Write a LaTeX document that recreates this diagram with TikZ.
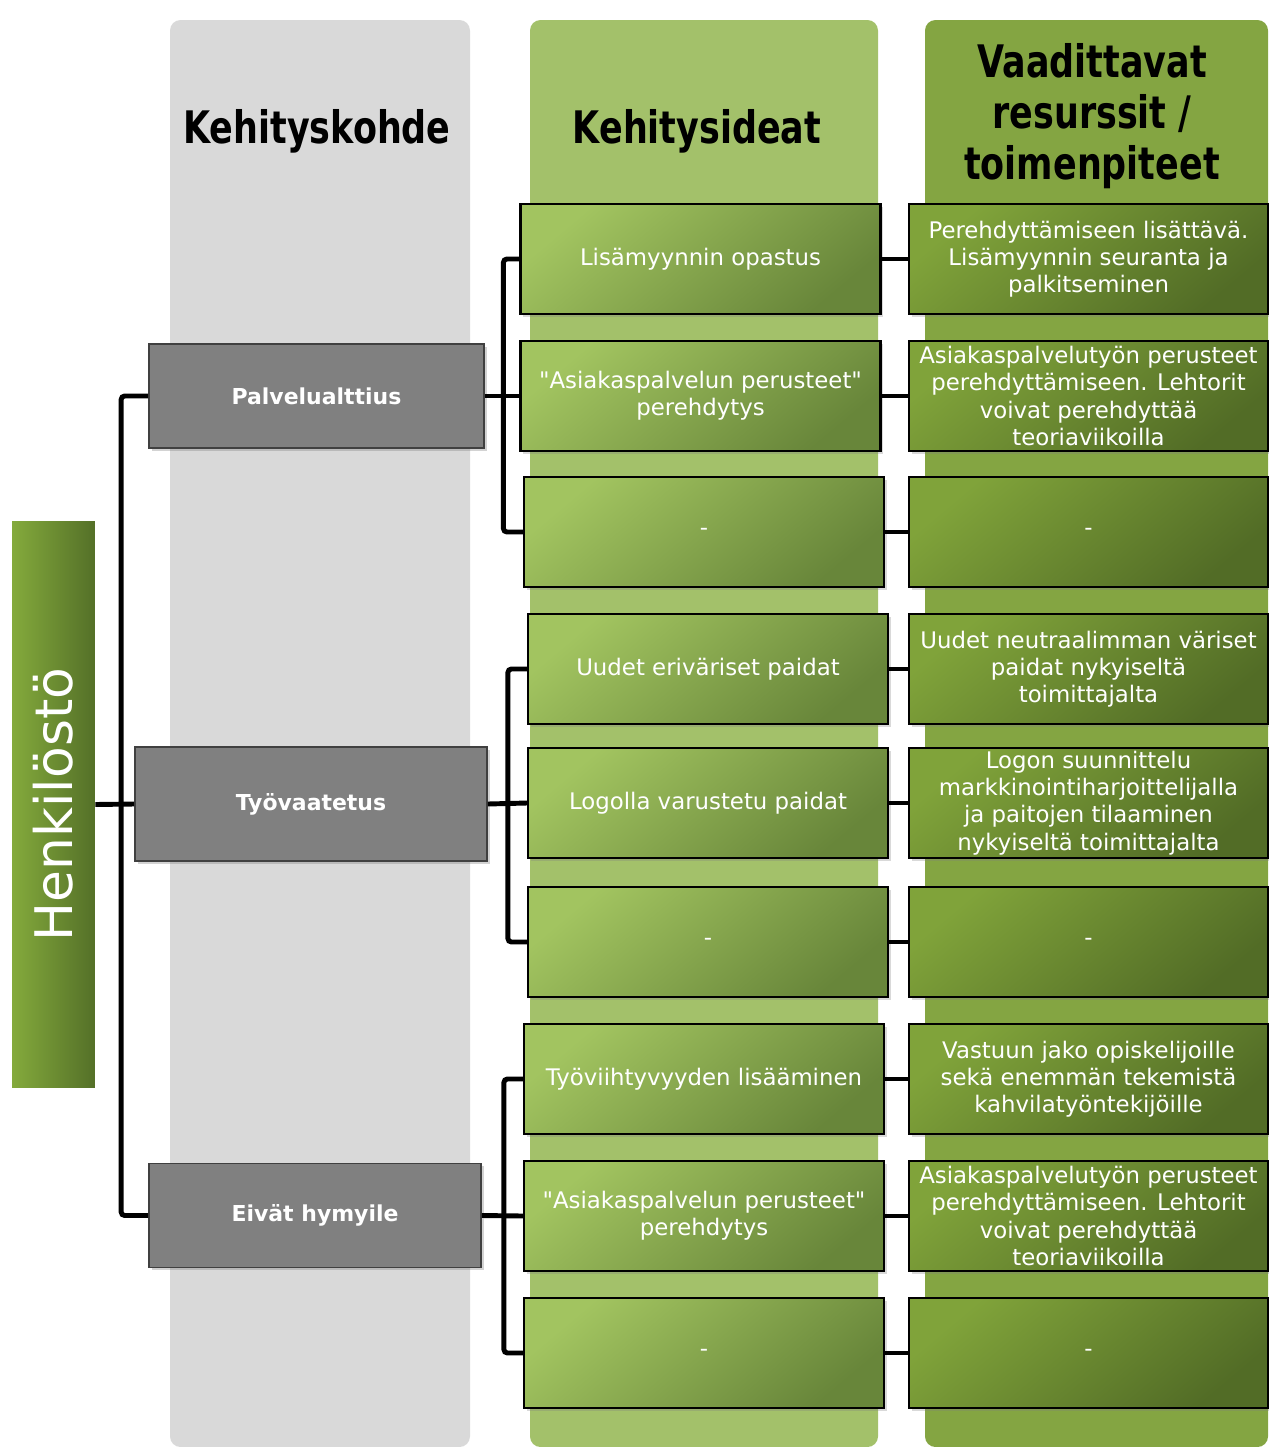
\documentclass[tikz,border=0pt]{standalone}
\usepackage{fontspec}
\setmainfont{DejaVu Sans}[Ligatures=TeXOff]
\newfontfamily\headfont[FakeStretch=0.78]{DejaVu Sans}
\usetikzlibrary{shadows}

\definecolor{GreyColumnColor}{RGB}{217,217,217}
\definecolor{IdeaColumnColor}{RGB}{163,193,106}
\definecolor{ResourceColumnColor}{RGB}{132,165,66}
\definecolor{TopicColor}{RGB}{128,128,128}
\definecolor{IdeaLightColor}{RGB}{162,196,96}
\definecolor{IdeaDarkColor}{RGB}{104,134,58}
\definecolor{ResourceLightColor}{RGB}{128,163,58}
\definecolor{ResourceDarkColor}{RGB}{82,108,38}
\definecolor{StaffLightColor}{RGB}{132,170,60}
\definecolor{StaffDarkColor}{RGB}{84,112,40}

\begin{document}
\begin{tikzpicture}[
		x=0.02cm, y=-0.02cm,
		header/.style={font=\headfont\bfseries\fontsize{25.5}{29}\selectfont, align=center},
		topic/.style={draw=black!75, line width=1pt, fill=TopicColor, text=white, font=\bfseries\fontsize{12.5}{15}\selectfont,
			minimum width=6.7cm, minimum height=2.08cm, drop shadow={opacity=0.35, shadow xshift=1.5pt, shadow yshift=-1.5pt}},
		idea/.style={draw=black, line width=1.3pt, top color=IdeaLightColor, bottom color=IdeaDarkColor, shading angle=40,
			text=white, font=\fontsize{13}{15.5}\selectfont, align=center, inner sep=1pt,
			minimum width=7.2cm, minimum height=2.2cm, drop shadow={opacity=0.3, shadow xshift=1.5pt, shadow yshift=-1.5pt}},
		resource/.style={idea, top color=ResourceLightColor, bottom color=ResourceDarkColor, shading angle=40, minimum width=7.18cm},
		link/.style={line width=2.8pt, rounded corners=2pt}
	]

	\useasboundingbox (0, 0) rectangle (1268, 1447);

	% Columns
	\fill[GreyColumnColor, rounded corners=6pt] (170, 20) rectangle (470, 1447);
	\fill[IdeaColumnColor, rounded corners=6pt] (530, 20) rectangle (878, 1447);
	\fill[ResourceColumnColor, rounded corners=6pt] (925, 20) rectangle (1268, 1447);

	% Headers
	\node[header] (hkohde) at (317, 131) {Kehityskohde};
	\node[header] (hideat) at (697, 131) {Kehitysideat};
	\node[header] (hres) at (1092, 116) {Vaadittavat\\resurssit /\\toimenpiteet};

	% Staff
	\node[left color=StaffLightColor, right color=StaffDarkColor, text=white, font=\fontsize{29.5}{34}\selectfont,
		minimum width=1.66cm, minimum height=11.34cm, inner sep=0pt] (henk) at (53.5, 804.5) {\rotatebox{90}{Henkilöstö}};

	% Topics
	\node[topic] (pal) at (316.5, 396) {Palvelualttius};
	\node[topic, minimum width=7.04cm, minimum height=2.28cm] (tyo) at (311, 804) {Työvaatetus};
	\node[topic, minimum width=6.64cm] (eiv) at (315, 1215.5) {Eivät hymyile};

	% Ideas
	\node[idea] (i1a) at (700.5, 259) {Lisämyynnin opastus};
	\node[idea] (i1b) at (700.5, 396) {"Asiakaspalvelun perusteet"\\perehdytys};
	\node[idea] (i1c) at (704, 532) {-};
	\node[idea] (i2a) at (708, 669) {Uudet eriväriset paidat};
	\node[idea] (i2b) at (708, 803) {Logolla varustetu paidat};
	\node[idea] (i2c) at (708, 942) {-};
	\node[idea] (i3a) at (704, 1079) {Työviihtyvyyden lisääminen};
	\node[idea] (i3b) at (704, 1216) {"Asiakaspalvelun perusteet"\\perehdytys};
	\node[idea] (i3c) at (704, 1353) {-};

	% Resources
	\node[resource] (r1a) at (1088.5, 259) {Perehdyttämiseen lisättävä.\\Lisämyynnin seuranta ja\\palkitseminen};
	\node[resource] (r1b) at (1088.5, 396) {Asiakaspalvelutyön perusteet\\perehdyttämiseen. Lehtorit\\voivat perehdyttää\\teoriaviikoilla};
	\node[resource] (r1c) at (1088.5, 532) {-};
	\node[resource] (r2a) at (1088.5, 669) {Uudet neutraalimman väriset\\paidat nykyiseltä\\toimittajalta};
	\node[resource] (r2b) at (1088.5, 803) {Logon suunnittelu\\markkinointiharjoittelijalla\\ja paitojen tilaaminen\\nykyiseltä toimittajalta};
	\node[resource] (r2c) at (1088.5, 942) {-};
	\node[resource] (r3a) at (1088.5, 1079) {Vastuun jako opiskelijoille\\sekä enemmän tekemistä\\kahvilatyöntekijöille};
	\node[resource] (r3b) at (1088.5, 1216) {Asiakaspalvelutyön perusteet\\perehdyttämiseen. Lehtorit\\voivat perehdyttää\\teoriaviikoilla};
	\node[resource] (r3c) at (1088.5, 1353) {-};

	% Links
	\draw[link] (henk.east) -- (tyo.west);
	\draw[link] (pal.west) -- ++(-27, 0) |- (eiv.west);
	\draw[link] (pal.east) -- (i1b.west);
	\draw[link] (i1a.west) -- ++(-16, 0) |- (i1c.west);
	\draw[link] (tyo.east) -- (i2b.west);
	\draw[link] (i2a.west) -- ++(-19, 0) |- (i2c.west);
	\draw[link] (eiv.east) -- (i3b.west);
	\draw[link] (i3a.west) -- ++(-19, 0) |- (i3c.west);
	\foreach \row in {1a, 1b, 1c, 2a, 2b, 2c, 3a, 3b, 3c}
		\draw[link] (i\row.east) -- (r\row.west);

\end{tikzpicture}
\end{document}
